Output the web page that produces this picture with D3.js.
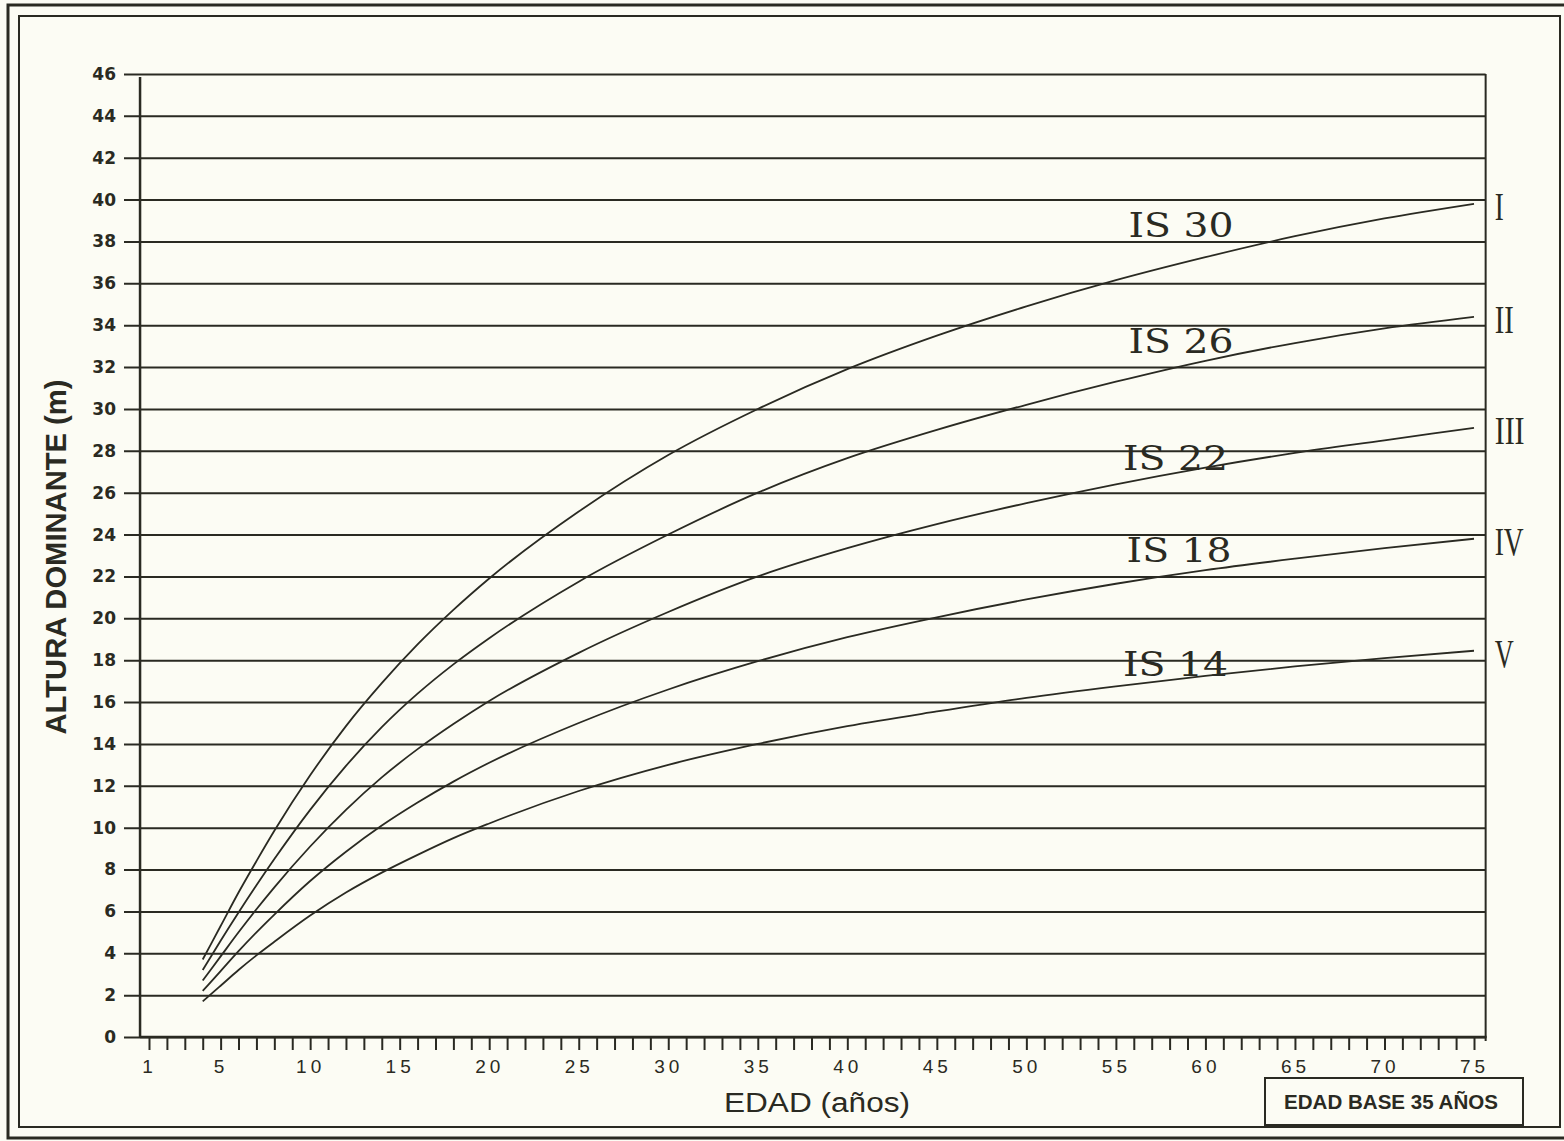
<!DOCTYPE html>
<html>
<head>
<meta charset="utf-8">
<script src="https://cdn.jsdelivr.net/npm/d3@7"></script>
<style>
  html, body { margin: 0; padding: 0; background: #fcfcf4; }
  svg { display: block; }
</style>
</head>
<body>
<svg id="chart" width="1564" height="1141"></svg>
<script>
// ---- data ----
const ages = [4, 5, 6, 7, 8, 10, 12, 14, 16, 18, 20, 25, 30, 35, 40, 45, 50, 55, 60, 65, 70, 75];
const siteI   = [3.7, 5.3, 6.9, 8.4, 9.85, 12.5, 14.85, 16.9, 18.75, 20.4, 21.9, 25.1, 27.8, 30.0, 31.9, 33.5, 34.9, 36.15, 37.25, 38.25, 39.1, 39.8];
const siteII  = [3.2, 4.6, 5.95, 7.25, 8.5, 10.85, 12.95, 14.8, 16.4, 17.8, 19.05, 21.75, 24.0, 26.0, 27.65, 29.0, 30.2, 31.3, 32.3, 33.15, 33.85, 34.4];
const siteIII = [2.7, 3.85, 5.0, 6.1, 7.15, 9.1, 10.85, 12.4, 13.75, 14.95, 16.05, 18.35, 20.3, 22.0, 23.35, 24.5, 25.5, 26.4, 27.2, 27.9, 28.5, 29.1];
const siteIV  = [2.2, 3.15, 4.1, 5.0, 5.85, 7.45, 8.85, 10.1, 11.2, 12.2, 13.1, 15.0, 16.6, 17.95, 19.1, 20.05, 20.9, 21.65, 22.3, 22.85, 23.35, 23.8];
const siteV   = [1.7, 2.45, 3.2, 3.9, 4.55, 5.8, 6.9, 7.85, 8.7, 9.5, 10.2, 11.75, 13.0, 14.0, 14.85, 15.55, 16.2, 16.75, 17.25, 17.7, 18.1, 18.45];
const seriesValues = [siteI, siteII, siteIII, siteIV, siteV];
const romanLabels = ["I", "II", "III", "IV", "V"];
const romanWidths = [9, 19, 30, 29, 19];
const indexLabels = ["IS 30", "IS 26", "IS 22", "IS 18", "IS 14"];
const indexLabelAge = [55.7, 55.7, 55.4, 55.6, 55.4];
const indexLabelHeight = [38.2, 32.65, 27.1, 22.7, 17.25];
const yTicks = [0, 2, 4, 6, 8, 10, 12, 14, 16, 18, 20, 22, 24, 26, 28, 30, 32, 34, 36, 38, 40, 42, 44, 46];
const xMinorTicks = d3.range(1, 76);
const xTickLabels = [1, 5, 10, 15, 20, 25, 30, 35, 40, 45, 50, 55, 60, 65, 70, 75];
const yTitle = "ALTURA DOMINANTE (m)";
const xTitle = "EDAD (años)";
const noteText = "EDAD BASE 35 AÑOS";

// ---- layout ----
const ink = "#2a2a22";
const svg = d3.select("#chart");
const x = d3.scaleLinear().domain([1, 75]).range([149, 1474]);
const y = d3.scaleLinear().domain([0, 46]).range([1037, 74]);
const plotLeft = x(0.5), plotRight = x(75.65);

// page frames
svg.append("rect").attr("x", 8).attr("y", 5).attr("width", 1562).attr("height", 1133)
  .attr("fill", "none").attr("stroke", ink).attr("stroke-width", 3);
svg.append("rect").attr("x", 19).attr("y", 16).attr("width", 1541).attr("height", 1111)
  .attr("fill", "none").attr("stroke", ink).attr("stroke-width", 2);

// horizontal grid + y tick labels (axis placed at right edge, ticks reach left past the axis)
const gridLeft = 124;
const yAxis = d3.axisLeft(y).tickValues(yTicks)
  .tickSize(plotRight - gridLeft).tickPadding(8).tickFormat(d3.format("d"));
const gy = svg.append("g").attr("transform", `translate(${plotRight},0)`).call(yAxis);
gy.select(".domain").remove();
gy.selectAll(".tick line").attr("stroke", ink).attr("stroke-width", 2);
gy.selectAll(".tick text").attr("fill", ink)
  .style("font-family", "'DejaVu Sans', Verdana, sans-serif")
  .style("font-size", "17px").style("font-weight", "bold");

// x axis minor ticks and labels
const xAxis = d3.axisBottom(x).tickValues(xMinorTicks).tickSize(13).tickPadding(10)
  .tickFormat(d => xTickLabels.includes(d) ? String(d) : "");
const gx = svg.append("g").attr("transform", `translate(0,${y(0)})`).call(xAxis);
gx.select(".domain").remove();
gx.selectAll(".tick line").attr("stroke", ink).attr("stroke-width", 2);
gx.selectAll(".tick text").attr("fill", ink)
  .style("font-family", "'Liberation Sans', Arial, sans-serif")
  .style("font-size", "19px").style("letter-spacing", "4px");

// axis lines and right border
svg.append("line").attr("x1", plotLeft).attr("x2", plotLeft).attr("y1", y(46) + 3).attr("y2", y(0))
  .attr("stroke", ink).attr("stroke-width", 2.5);
svg.append("line").attr("x1", plotLeft).attr("x2", plotRight + 1).attr("y1", y(0)).attr("y2", y(0))
  .attr("stroke", ink).attr("stroke-width", 2.5);
svg.append("line").attr("x1", plotRight).attr("x2", plotRight).attr("y1", y(46)).attr("y2", y(0) + 4)
  .attr("stroke", ink).attr("stroke-width", 2);

// curves
const line = d3.line().x(d => x(d[0])).y(d => y(d[1])).curve(d3.curveMonotoneX);
seriesValues.forEach((vals, i) => {
  svg.append("path").datum(ages.map((a, j) => [a, vals[j]]))
    .attr("d", line).attr("fill", "none").attr("stroke", ink).attr("stroke-width", 1.8);
  // roman numeral
  svg.append("text").attr("x", plotRight + 9).attr("y", y(vals[vals.length - 1]) + 16)
    .attr("fill", ink).style("font-family", "'Liberation Serif', 'Times New Roman', serif")
    .style("font-size", "40px")
    .attr("textLength", romanWidths[i]).attr("lengthAdjust", "spacingAndGlyphs")
    .text(romanLabels[i]);
  // IS label
  svg.append("text").attr("x", x(indexLabelAge[i])).attr("y", y(indexLabelHeight[i]))
    .attr("fill", ink).style("font-family", "'DejaVu Serif', 'Liberation Serif', serif")
    .style("font-size", "33px").style("font-weight", "300")
    .attr("textLength", 105).attr("lengthAdjust", "spacingAndGlyphs")
    .text(indexLabels[i]);
});

// axis titles
svg.append("text").attr("transform", "translate(66,557) rotate(-90)")
  .attr("text-anchor", "middle").attr("fill", ink)
  .style("font-family", "'Liberation Sans', Arial, sans-serif")
  .style("font-size", "30px").style("font-weight", "bold")
  .attr("textLength", 355).attr("lengthAdjust", "spacingAndGlyphs").text(yTitle);
svg.append("text").attr("x", 817).attr("y", 1112).attr("text-anchor", "middle").attr("fill", ink)
  .style("font-family", "'Liberation Sans', Arial, sans-serif").style("font-size", "27px")
  .attr("textLength", 186).attr("lengthAdjust", "spacingAndGlyphs").text(xTitle);

// note box
svg.append("rect").attr("x", 1265).attr("y", 1078).attr("width", 258).attr("height", 47)
  .attr("fill", "#fcfcf4").attr("stroke", ink).attr("stroke-width", 2);
svg.append("text").attr("x", 1391).attr("y", 1109).attr("text-anchor", "middle").attr("fill", ink)
  .style("font-family", "'Liberation Sans', Arial, sans-serif").style("font-size", "21px")
  .style("font-weight", "bold")
  .attr("textLength", 214).attr("lengthAdjust", "spacingAndGlyphs").text(noteText);
</script>
</body>
</html>
